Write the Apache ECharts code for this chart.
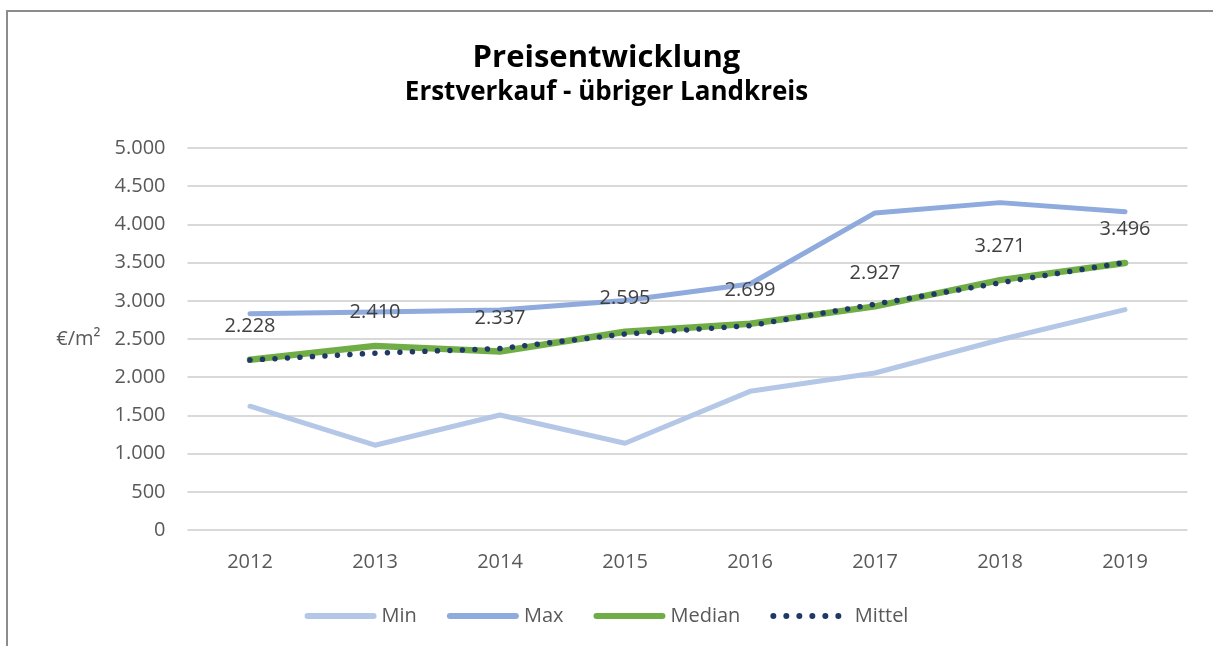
<!DOCTYPE html>
<html>
<head>
<meta charset="utf-8">
<title>Preisentwicklung</title>
<script src="https://cdn.jsdelivr.net/npm/echarts@6/dist/echarts.min.js"></script>
<style>
  html, body { margin: 0; padding: 0; background: #ffffff; }
  #chart { width: 1213px; height: 646px; }
</style>
</head>
<body>
<div id="chart"></div>
<script>
// Years on the category axis
const years = ['2012', '2013', '2014', '2015', '2016', '2017', '2018', '2019'];

// Price per square metre (€/m²), first sale, rest of the district
const minValues    = [1620, 1110, 1505, 1135, 1815, 2055, 2490, 2885];
const maxValues    = [2830, 2855, 2880, 3005, 3220, 4150, 4285, 4165];
const medianValues = [2228, 2410, 2337, 2595, 2699, 2927, 3271, 3496];
const meanValues   = [2225, 2315, 2375, 2565, 2675, 2955, 3235, 3500];

// Y-axis ticks
const yTicks = [0, 500, 1000, 1500, 2000, 2500, 3000, 3500, 4000, 4500, 5000];

const FONT = '"Open Sans", "Noto Sans", sans-serif';

// German thousands separator
function fmt(v) {
  return String(Math.round(v)).replace(/\B(?=(\d{3})+(?!\d))/g, '.');
}

// Legend icons: a rounded bar for solid lines, a row of six dots for the dotted one
const ICON_SOLID = 'path://M3,0H69A3,3 0 0,1 69,6H3A3,3 0 0,1 3,0Z';
const ICON_DOTS = 'path://' + [3, 16, 29, 42, 55, 68]
  .map(c => 'M' + (c - 3) + ',3a3,3 0 1,0 6,0a3,3 0 1,0 -6,0Z').join('');

const chart = echarts.init(document.getElementById('chart'), null, { renderer: 'canvas' });

chart.setOption({
  backgroundColor: '#ffffff',
  animation: false,
  textStyle: { fontFamily: FONT },
  graphic: [{
    type: 'rect',
    shape: { x: 7, y: 11, width: 1300, height: 700 },
    style: { fill: 'none', stroke: '#8c8c8c', lineWidth: 2 },
    silent: true
  }],
  title: [
    {
      text: 'Preisentwicklung',
      left: 'center',
      top: 38,
      textStyle: { fontFamily: FONT, fontWeight: 'bold', fontSize: 31, color: '#000000' }
    },
    {
      text: 'Erstverkauf - übriger Landkreis',
      left: 'center',
      top: 75,
      textStyle: { fontFamily: FONT, fontWeight: 'bold', fontSize: 26, color: '#000000' }
    }
  ],
  legend: {
    top: 601,
    left: 'center',
    itemWidth: 72,
    itemHeight: 6,
    itemGap: 30,
    textStyle: { fontFamily: FONT, fontSize: 20, color: '#595959' },
    data: [
      { name: 'Min', icon: ICON_SOLID },
      { name: 'Max', icon: ICON_SOLID },
      { name: 'Median', icon: ICON_SOLID, itemStyle: { color: '#70ad47', opacity: 1 } },
      { name: 'Mittel', icon: ICON_DOTS, textStyle: { padding: [0, 0, 0, 8] } }
    ]
  },
  grid: { left: 187.5, right: 25.5, top: 148, bottom: 116 },
  xAxis: {
    type: 'category',
    data: years,
    boundaryGap: true,
    axisLine: { show: false },
    axisTick: { show: false },
    axisLabel: { margin: 22, fontFamily: FONT, fontSize: 20, color: '#595959' }
  },
  yAxis: {
    type: 'value',
    min: yTicks[0],
    max: yTicks[yTicks.length - 1],
    interval: yTicks[1] - yTicks[0],
    name: '€/m²',
    nameLocation: 'middle',
    nameRotate: 0,
    nameGap: 87,
    nameTextStyle: { fontFamily: FONT, fontSize: 20, color: '#595959' },
    axisLine: { show: false },
    axisTick: { show: false },
    axisLabel: { margin: 22, fontFamily: FONT, fontSize: 20, color: '#595959', formatter: fmt },
    splitLine: { lineStyle: { color: '#d9d9d9', width: 2 } }
  },
  series: [
    {
      name: 'Min',
      type: 'line',
      data: minValues,
      symbol: 'none',
      lineStyle: { color: '#b4c7e7', width: 5, cap: 'round', join: 'round' },
      itemStyle: { color: '#b4c7e7' }
    },
    {
      name: 'Max',
      type: 'line',
      data: maxValues,
      symbol: 'none',
      lineStyle: { color: '#8faadc', width: 5, cap: 'round', join: 'round' },
      itemStyle: { color: '#8faadc' }
    },
    {
      name: 'Median',
      type: 'line',
      data: medianValues,
      symbol: 'circle',
      symbolSize: 1,
      showSymbol: true,
      lineStyle: { color: '#70ad47', width: 6.5, cap: 'round', join: 'round' },
      itemStyle: { color: '#70ad47', opacity: 0 },
      label: {
        show: true,
        position: 'top',
        distance: 23,
        fontFamily: FONT,
        fontSize: 20,
        color: '#404040',
        opacity: 1,
        formatter: p => fmt(p.value)
      }
    },
    {
      name: 'Mittel',
      type: 'line',
      data: meanValues,
      symbol: 'none',
      lineStyle: { color: '#1f3864', width: 5.5, type: [0.01, 12.5], cap: 'round' },
      itemStyle: { color: '#1f3864' }
    }
  ]
});
</script>
</body>
</html>
